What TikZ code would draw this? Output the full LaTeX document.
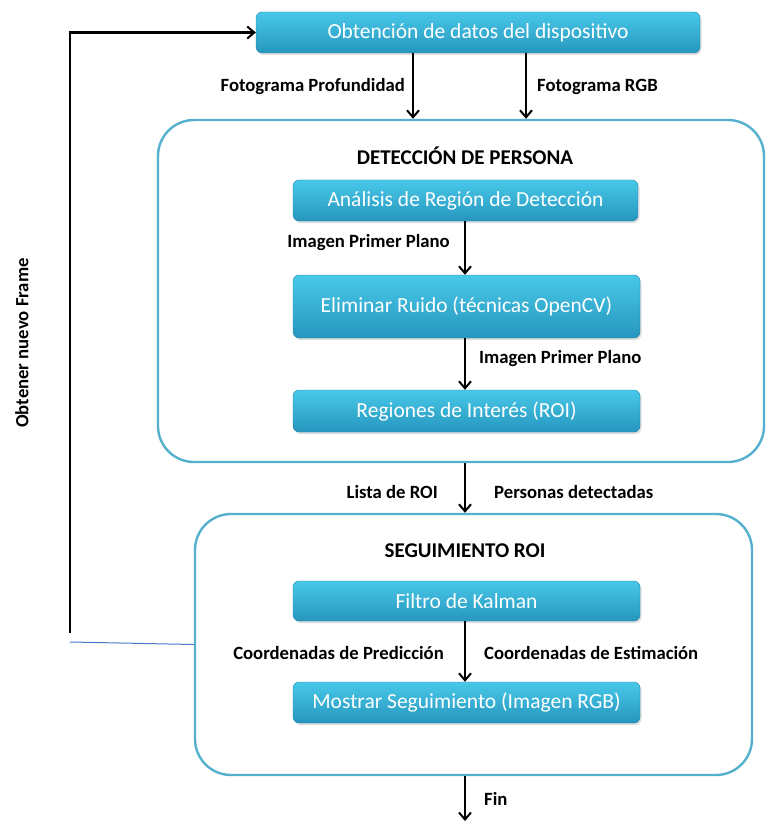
\documentclass[tikz,border=0pt]{standalone}
\usepackage{fontspec}
\setmainfont{Carlito}
\usetikzlibrary{arrows.meta,shadows}
\definecolor{boxtop}{RGB}{72,200,232}
\definecolor{boxbot}{RGB}{38,150,190}
\definecolor{framec}{RGB}{84,176,204}
\definecolor{thinblue}{RGB}{72,122,200}
\tikzset{
  procbox/.style={rounded corners=6pt, top color=boxtop, bottom color=boxbot,
    draw=boxbot!90!black, line width=0.4pt, text=white, font=\fontsize{21.5pt}{24pt}\selectfont,
    inner sep=0pt, drop shadow={opacity=0.25, shadow xshift=1.5pt, shadow yshift=-2pt}},
  container/.style={draw=framec, line width=2.4pt, rounded corners=36pt, inner sep=0pt, fill=white},
  arr/.style={draw=black, line width=2.4pt, -{Straight Barb[length=7pt,width=12pt,line width=2pt]}},
  lbl/.style={font=\bfseries\fontsize{18.7pt}{21pt}\selectfont, inner sep=0pt},
  ttl/.style={font=\bfseries\fontsize{21pt}{24pt}\selectfont, inner sep=0pt}
}
\begin{document}
\begin{tikzpicture}[x=1pt,y=-1pt]
\useasboundingbox (0,0) rectangle (765,821);
% containers
\node[container, minimum width=606pt, minimum height=342pt] (det) at (461,291) {};
\node[container, minimum width=557pt, minimum height=261pt] (seg) at (473.5,644.5) {};
% top box
\node[procbox, minimum width=444pt, minimum height=41pt] (top) at (478,32.5) {Obtención de datos del dispositivo};
% detection boxes
\node[ttl] (dtitle) at (465,156) {DETECCIÓN DE PERSONA};
\node[procbox, minimum width=345pt, minimum height=41pt] (ana) at (465.5,200.5) {Análisis de Región de Detección};
\node[procbox, minimum width=347pt, minimum height=63pt] (eli) at (466.5,306.5) {Eliminar Ruido (técnicas OpenCV)};
\node[procbox, minimum width=347pt, minimum height=42pt] (roi) at (466.5,411) {Regiones de Interés (ROI)};
% tracking boxes
\node[ttl] (stitle) at (465,551) {SEGUIMIENTO ROI};
\node[procbox, minimum width=347pt, minimum height=40pt] (kal) at (466.5,601) {Filtro de Kalman};
\node[procbox, minimum width=347pt, minimum height=41pt] (mos) at (466.5,702.5) {Mostrar Seguimiento (Imagen RGB)};
% arrows from top
\draw[arr] ([xshift=-65pt]top.south) -- ([xshift=-65pt]top.south |- det.north);
\draw[arr] ([xshift=48pt]top.south) -- ([xshift=48pt]top.south |- det.north);
\node[lbl, anchor=east] (l1) at (405,87) {Fotograma Profundidad};
\node[lbl, anchor=west] (l2) at (537,87) {Fotograma RGB};
% inner arrows
\draw[arr] (ana.south -| 465,0) -- (eli.north -| 465,0);
\node[lbl, anchor=east] (l3) at (450,243) {Imagen Primer Plano};
\draw[arr] (eli.south -| 465,0) -- (roi.north -| 465,0);
\node[lbl, anchor=west] (l4) at (479,359) {Imagen Primer Plano};
% between containers
\draw[arr] (det.south -| 465,0) -- (seg.north -| 465,0);
\node[lbl, anchor=east] (l5) at (438,492) {Lista de ROI};
\node[lbl, anchor=west] (l6) at (494,492) {Personas detectadas};
% tracking arrow
\draw[arr] (kal.south -| 465,0) -- (mos.north -| 465,0);
\node[lbl, anchor=east] (l7) at (444,653) {Coordenadas de Predicción};
\node[lbl, anchor=west] (l8) at (484,653) {Coordenadas de Estimación};
% end
\coordinate (endp) at (465,821);
\draw[arr] (seg.south -| 465,0) -- (endp);
\node[lbl, anchor=west] (fin) at (484,799) {Fin};
% feedback
\coordinate (fb) at (70,633);
\draw[arr] (fb) |- (top.west);
\node[lbl, rotate=90] (fbl) at (22,343) {Obtener nuevo Frame};
\coordinate (fbb) at (70,642);
\draw[thinblue, line width=1pt] (fbb) -- (seg.west);
\end{tikzpicture}
\end{document}
